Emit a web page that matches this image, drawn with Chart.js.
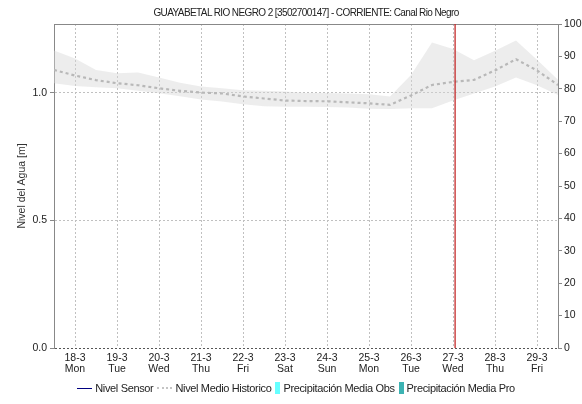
<!DOCTYPE html>
<html>
<head>
<meta charset="utf-8">
<script src="https://cdn.jsdelivr.net/npm/chart.js@4"></script>
<style>
  body { margin: 0; background: #fff; font-family: "Liberation Sans", Arial, sans-serif; }
  #wrap { position: relative; width: 582px; height: 404px; }
  #titulo { position: absolute; top: 7px; left: 54px; width: 504px; text-align: center; font-size: 10px; letter-spacing: -0.6px; color: #222; }
  #leyenda { position: absolute; top: 382px; left: 10px; width: 572px; display: flex; justify-content: center; align-items: center; font-size: 11px; letter-spacing: -0.35px; color: #222; }
  #leyenda span { display: inline-flex; align-items: center; margin: 0 2px; }
  .linea { display: inline-block; width: 15px; height: 0; margin-right: 3px; }
  .caja { display: inline-block; width: 5px; height: 12px; margin-right: 3px; }
</style>
</head>
<body>
<div id="wrap">
  <canvas id="grafica" width="582" height="404"></canvas>
  <div id="titulo">GUAYABETAL RIO NEGRO 2 [3502700147] - CORRIENTE: Canal Rio Negro</div>
  <div id="leyenda">
    <span><i class="linea" style="border-top:1px solid #000080"></i>Nivel Sensor</span>
    <span><i class="linea" style="border-top:2px dotted #c4c4c4"></i>Nivel Medio Historico</span>
    <span><i class="caja" style="background:#66ffff"></i>Precipitación Media Obs</span>
    <span><i class="caja" style="background:#3cb3b3"></i>Precipitación Media Pro</span>
  </div>
</div>
<script>
const CTX = document.getElementById('grafica');

// dias desde 18-3 00:00
const dias = ['18-3', '19-3', '20-3', '21-3', '22-3', '23-3', '24-3', '25-3', '26-3', '27-3', '28-3', '29-3'];
const diasSemana = ['Mon', 'Tue', 'Wed', 'Thu', 'Fri', 'Sat', 'Sun', 'Mon', 'Tue', 'Wed', 'Thu', 'Fri'];
const horas = [0, 0.5, 1, 1.5, 2, 2.5, 3, 3.5, 4, 4.5, 5, 5.5, 6, 6.5, 7, 7.5, 8, 8.5, 9, 9.5, 10, 10.5, 11, 11.5, 12];
const nivelMedio = [1.09, 1.068, 1.05, 1.038, 1.03, 1.018, 1.008, 1.001, 0.998, 0.986, 0.978, 0.970, 0.968, 0.967, 0.963, 0.959, 0.953, 0.99, 1.031, 1.043, 1.051, 1.088, 1.132, 1.088, 1.031];
const nivelMax = [1.166, 1.135, 1.09, 1.077, 1.08, 1.06, 1.04, 1.025, 1.018, 1.01, 1.008, 1.005, 1.0, 1.0, 0.998, 0.995, 0.986, 1.07, 1.197, 1.172, 1.128, 1.165, 1.205, 1.13, 1.051];
const nivelMin = [1.038, 1.027, 1.022, 1.018, 1.008, 0.999, 0.987, 0.974, 0.966, 0.955, 0.948, 0.946, 0.946, 0.945, 0.943, 0.938, 0.937, 0.94, 0.94, 0.97, 0.998, 1.025, 1.06, 1.03, 0.992];
const nivelSensor = [];
const ahora = 9.55;
const ticksNivel = [0, 0.5, 1.0];

const pares = (arr) => horas.map((h, i) => ({ x: h, y: arr[i] }));

new Chart(CTX, {
  type: 'line',
  data: {
    datasets: [
      {
        label: 'Ahora',
        data: [{ x: ahora, y: 0 }, { x: ahora, y: 1.27 }],
        borderColor: '#c42a2a',
        borderWidth: 1.3,
        pointRadius: 0
      },
      {
        label: 'Nivel Sensor',
        data: nivelSensor,
        borderColor: '#000080',
        borderWidth: 1,
        pointRadius: 0
      },
      {
        label: 'Nivel Medio Historico',
        data: pares(nivelMedio),
        borderColor: '#b8b8b8',
        borderWidth: 2.2,
        borderDash: [3, 3],
        pointRadius: 0,
        tension: 0
      },
      {
        label: 'max',
        data: pares(nivelMax),
        borderWidth: 0,
        pointRadius: 0,
        backgroundColor: 'rgba(215,215,215,0.45)',
        fill: '+1'
      },
      {
        label: 'min',
        data: pares(nivelMin),
        borderWidth: 0,
        pointRadius: 0
      }
    ]
  },
  options: {
    responsive: false,
    animation: false,
    layout: { padding: { top: 24, left: 0, right: 0, bottom: 0 } },
    plugins: {
      legend: { display: false },
      tooltip: { enabled: false }
    },
    scales: {
      x: {
        type: 'linear',
        min: 0,
        max: 12,
        afterBuildTicks: (scale) => { scale.ticks = dias.map((d, i) => ({ value: i + 0.5 })); },
        afterFit: (scale) => { scale.height = 56; },
        ticks: {
          autoSkip: false,
          maxRotation: 0,
          padding: 5,
          color: '#222',
          font: { family: 'Liberation Sans', size: 10.5, lineHeight: 1.05 },
          callback: (v) => { const i = Math.round(v - 0.5); return [dias[i], diasSemana[i]]; }
        },
        grid: { color: '#c0c0c0', drawTicks: false },
        border: { display: false, dash: [2, 2] }
      },
      x2: {
        type: 'linear',
        position: 'top',
        min: 0,
        max: 12,
        afterFit: (scale) => { scale.height = 0; },
        ticks: { display: false },
        grid: { drawOnChartArea: false, drawTicks: false },
        border: { color: '#888' }
      },
      y: {
        position: 'left',
        min: 0,
        max: 1.27,
        afterBuildTicks: (scale) => { scale.ticks = ticksNivel.map(v => ({ value: v })); },
        afterFit: (scale) => { scale.width = 54; },
        ticks: {
          padding: 3,
          color: '#222',
          font: { family: 'Liberation Sans', size: 10.5 },
          callback: (v) => v.toFixed(1)
        },
        grid: {
          color: (c) => (c.tick && c.tick.value === 0 ? '#555' : '#c0c0c0'),
          tickLength: 4,
          tickColor: '#888',
          tickBorderDash: []
        },
        border: { color: '#888', dash: [2, 2] },
        title: {
          display: true,
          text: 'Nivel del Agua [m]',
          color: '#333',
          font: { family: 'Liberation Sans', size: 10.5 },
          padding: { top: 16 }
        }
      },
      y1: {
        position: 'right',
        min: 0,
        max: 100,
        ticks: {
          stepSize: 10,
          padding: 2,
          color: '#222',
          font: { family: 'Liberation Sans', size: 10.5 }
        },
        afterFit: (scale) => { scale.width = 24; },
        grid: { drawOnChartArea: false, tickLength: 4, color: '#888' },
        border: { color: '#888' }
      }
    }
  }
});
</script>
</body>
</html>
